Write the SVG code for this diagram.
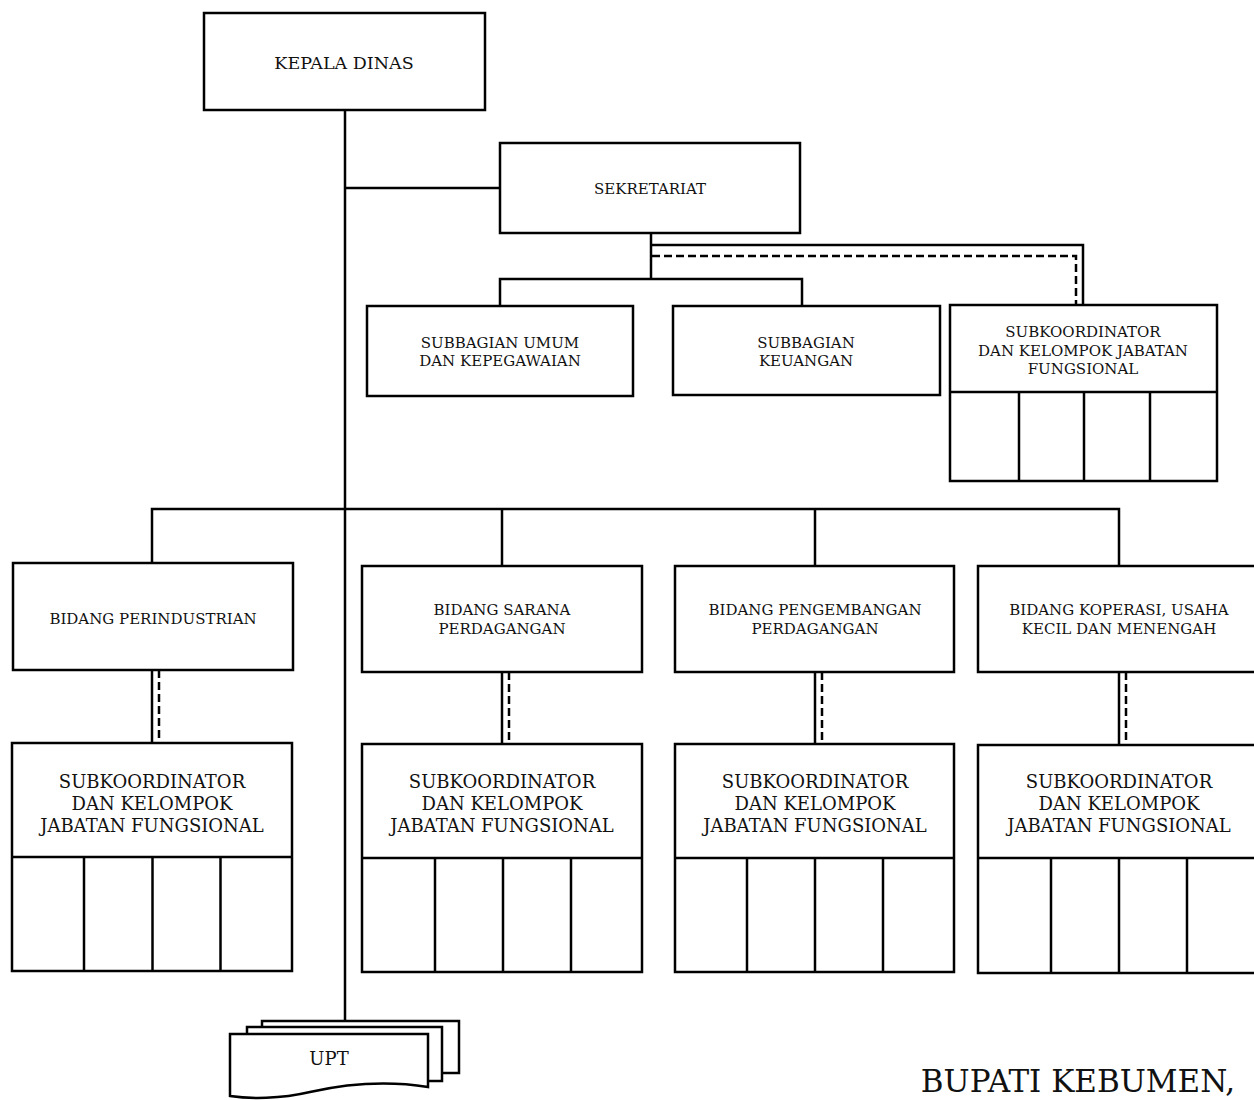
<svg xmlns="http://www.w3.org/2000/svg" width="1254" height="1100" viewBox="0 0 1254 1100">
<style>
rect,path.box{fill:#fff;stroke:#000;stroke-width:2.5}
.c{fill:none;stroke:#000;stroke-width:2.5}
.d{fill:none;stroke:#000;stroke-width:2.5;stroke-dasharray:8 4}
line.g{stroke:#000;stroke-width:2.5}
text{font-family:"DejaVu Serif","Liberation Serif",serif;fill:#111;text-anchor:middle}
.s{font-size:15px}
.m{font-size:17.5px}
.l{font-size:18px}
</style>
<rect width="1254" height="1100" style="fill:#fff;stroke:none"/>
<g id="connectors">
<path class="c" d="M345,110 V1021"/>
<path class="c" d="M345,188 H500"/>
<path class="c" d="M651,233 V279"/>
<path class="c" d="M500,306 V279 H802 V306"/>
<path class="c" d="M651,245 H1083 V305"/>
<path class="d" d="M652,256 H1076 V305"/>
<path class="c" d="M152,563 V509 H1119 V566"/>
<path class="c" d="M502,509 V566"/>
<path class="c" d="M815,509 V566"/>
<path class="c" d="M152,670 V743"/>
<path class="d" d="M159,670 V743"/>
<path class="c" d="M502,672 V744"/>
<path class="d" d="M509,672 V744"/>
<path class="c" d="M815,672 V744"/>
<path class="d" d="M822,672 V744"/>
<path class="c" d="M1119,672 V745"/>
<path class="d" d="M1126,672 V745"/>
</g>
<g id="kepala-dinas">
<rect x="204" y="13" width="281" height="97"/>
<text class="m" x="344" y="69">KEPALA DINAS</text>
</g>
<g id="sekretariat">
<rect x="500" y="143" width="300" height="90"/>
<text class="s" x="650" y="193.5">SEKRETARIAT</text>
</g>
<g id="subbagian-umum">
<rect x="367" y="306" width="266" height="90"/>
<text class="s" x="500" y="347.5">SUBBAGIAN UMUM</text>
<text class="s" x="500" y="365.5">DAN KEPEGAWAIAN</text>
</g>
<g id="subbagian-keuangan">
<rect x="673" y="306" width="267" height="89"/>
<text class="s" x="806" y="347.5">SUBBAGIAN</text>
<text class="s" x="806" y="365.5">KEUANGAN</text>
</g>
<g id="subkoordinator-sekretariat">
<rect x="950" y="305" width="267" height="176"/>
<line class="g" x1="950" y1="392" x2="1217" y2="392"/>
<line class="g" x1="1019" y1="392" x2="1019" y2="481"/>
<line class="g" x1="1084" y1="392" x2="1084" y2="481"/>
<line class="g" x1="1150" y1="392" x2="1150" y2="481"/>
<text class="s" x="1083" y="337">SUBKOORDINATOR</text>
<text class="s" x="1083" y="355.5">DAN KELOMPOK JABATAN</text>
<text class="s" x="1083" y="374">FUNGSIONAL</text>
</g>
<g id="bidang-perindustrian">
<rect x="13" y="563" width="280" height="107"/>
<text class="s" x="153" y="623.5">BIDANG PERINDUSTRIAN</text>
</g>
<g id="bidang-sarana">
<rect x="362" y="566" width="280" height="106"/>
<text class="s" x="502" y="614.5">BIDANG SARANA</text>
<text class="s" x="502" y="633.5">PERDAGANGAN</text>
</g>
<g id="bidang-pengembangan">
<rect x="675" y="566" width="279" height="106"/>
<text class="s" x="815" y="614.5">BIDANG PENGEMBANGAN</text>
<text class="s" x="815" y="633.5">PERDAGANGAN</text>
</g>
<g id="bidang-koperasi">
<rect x="978" y="566" width="282" height="106"/>
<text class="s" x="1119" y="614.5">BIDANG KOPERASI, USAHA</text>
<text class="s" x="1119" y="633.5">KECIL DAN MENENGAH</text>
</g>
<g id="subkoordinator-1">
<rect x="12" y="743" width="280" height="228"/>
<line class="g" x1="12" y1="857" x2="292" y2="857"/>
<line class="g" x1="84" y1="857" x2="84" y2="971"/>
<line class="g" x1="152.5" y1="857" x2="152.5" y2="971"/>
<line class="g" x1="220.5" y1="857" x2="220.5" y2="971"/>
<text class="l" x="152" y="787.5">SUBKOORDINATOR</text>
<text class="l" x="152" y="809.5">DAN KELOMPOK</text>
<text class="l" x="152" y="831.5">JABATAN FUNGSIONAL</text>
</g>
<g id="subkoordinator-2">
<rect x="362" y="744" width="280" height="228"/>
<line class="g" x1="362" y1="858" x2="642" y2="858"/>
<line class="g" x1="435" y1="858" x2="435" y2="972"/>
<line class="g" x1="503" y1="858" x2="503" y2="972"/>
<line class="g" x1="571" y1="858" x2="571" y2="972"/>
<text class="l" x="502" y="787.5">SUBKOORDINATOR</text>
<text class="l" x="502" y="809.5">DAN KELOMPOK</text>
<text class="l" x="502" y="831.5">JABATAN FUNGSIONAL</text>
</g>
<g id="subkoordinator-3">
<rect x="675" y="744" width="279" height="228"/>
<line class="g" x1="675" y1="858" x2="954" y2="858"/>
<line class="g" x1="747" y1="858" x2="747" y2="972"/>
<line class="g" x1="815" y1="858" x2="815" y2="972"/>
<line class="g" x1="883" y1="858" x2="883" y2="972"/>
<text class="l" x="815" y="787.5">SUBKOORDINATOR</text>
<text class="l" x="815" y="809.5">DAN KELOMPOK</text>
<text class="l" x="815" y="831.5">JABATAN FUNGSIONAL</text>
</g>
<g id="subkoordinator-4">
<rect x="978" y="745" width="282" height="228"/>
<line class="g" x1="978" y1="858" x2="1260" y2="858"/>
<line class="g" x1="1051" y1="858" x2="1051" y2="973"/>
<line class="g" x1="1119" y1="858" x2="1119" y2="973"/>
<line class="g" x1="1187" y1="858" x2="1187" y2="973"/>
<text class="l" x="1119" y="787.5">SUBKOORDINATOR</text>
<text class="l" x="1119" y="809.5">DAN KELOMPOK</text>
<text class="l" x="1119" y="831.5">JABATAN FUNGSIONAL</text>
</g>
<g id="upt">
<rect x="262" y="1021" width="197" height="52"/>
<rect x="247" y="1027" width="195" height="54"/>
<path class="box" d="M230,1034 H428 V1087 C390,1081 350,1083 310,1092 C280,1099 250,1099 230,1096 Z"/>
<text class="l" x="329" y="1064.5">UPT</text>
</g>
<text x="1078" y="1092" style="font-size:31px">BUPATI KEBUMEN,</text>
</svg>
